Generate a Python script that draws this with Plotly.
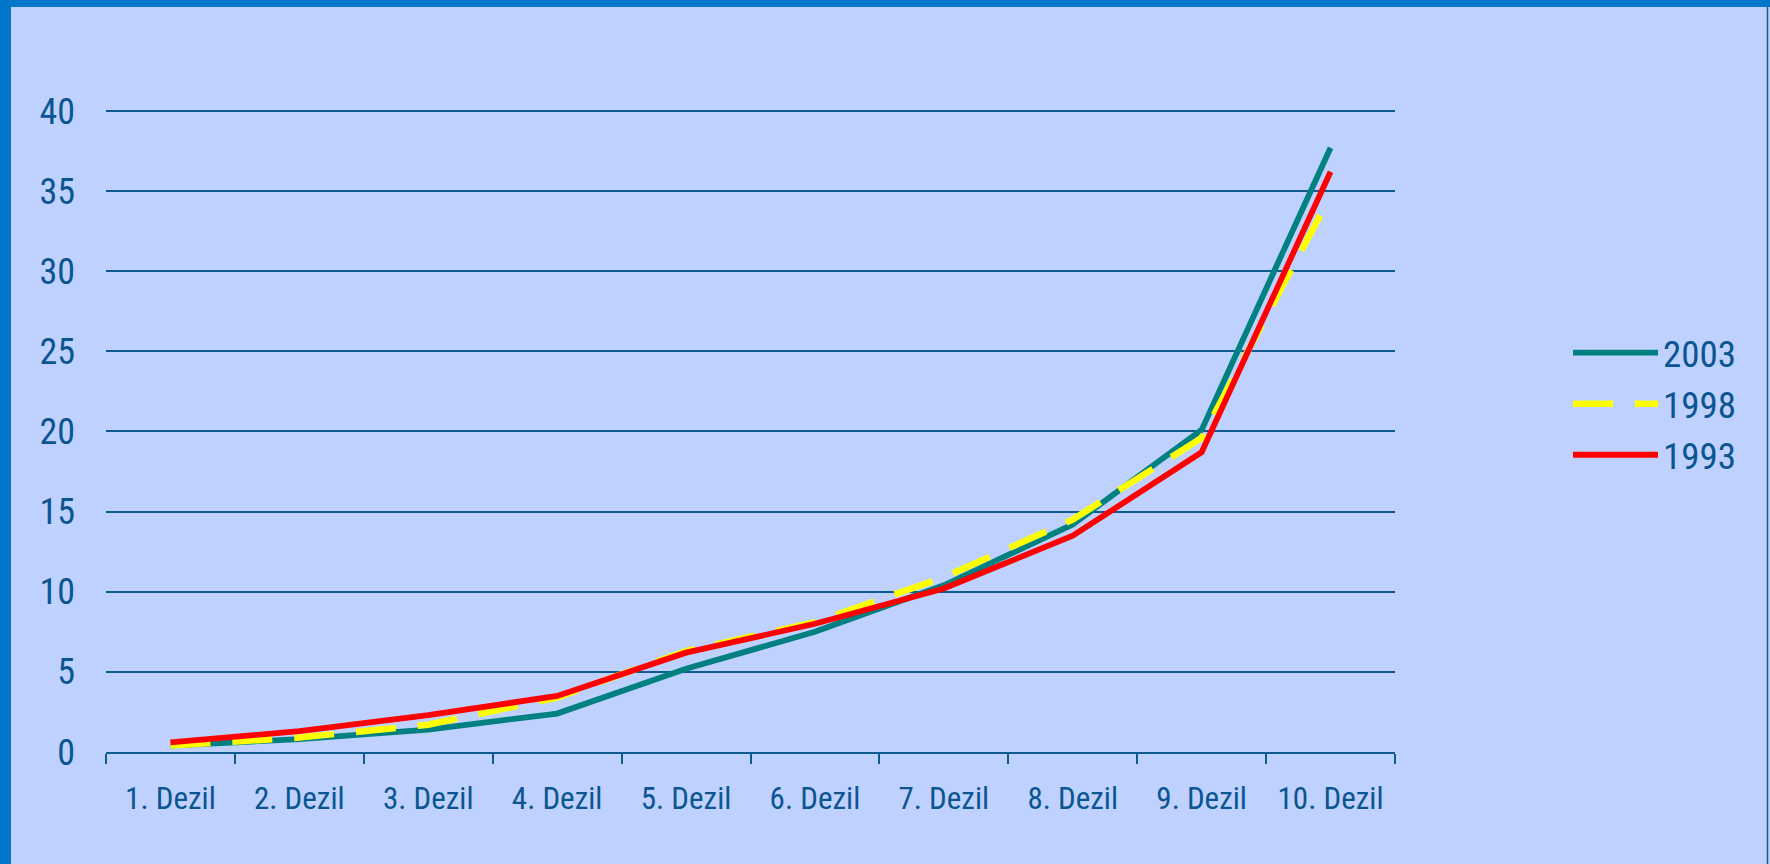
import plotly.graph_objects as go

# data
deciles = ["1. Dezil", "2. Dezil", "3. Dezil", "4. Dezil", "5. Dezil",
           "6. Dezil", "7. Dezil", "8. Dezil", "9. Dezil", "10. Dezil"]
share_2003 = [0.4, 0.8, 1.4, 2.4, 5.2, 7.5, 10.4, 14.2, 20.1, 37.7]
share_1998 = [0.4, 0.9, 1.7, 3.4, 6.3, 8.1, 10.9, 14.5, 19.6, 34.7]
share_1993 = [0.6, 1.3, 2.3, 3.5, 6.2, 8.0, 10.2, 13.5, 18.7, 36.2]

W, H = 1770, 864
L, R, T, B = 106, 375, 109, 112
pw, ph = W - L - R, H - T - B

text_col = "#0B5590"
grid_col = "#0F5A8F"
bg = "#BFD2FF"
frame = "#0077C8"
font_fam = "Liberation Sans Narrow, Arial Narrow, Roboto Condensed, sans-serif"


def px_x(px):
    return (px - L) / pw


def px_y(py):
    return 1 - (py - T) / ph


fig = go.Figure()

fig.add_trace(go.Scatter(
    x=deciles, y=share_2003, name="2003", mode="lines",
    line=dict(color="#008080", width=5.8)
))
fig.add_trace(go.Scatter(
    x=deciles, y=share_1998, name="1998", mode="lines",
    line=dict(color="#FFFF00", width=6.5, dash="40px,22px")
))
fig.add_trace(go.Scatter(
    x=deciles, y=share_1993, name="1993", mode="lines",
    line=dict(color="#FF0000", width=5.8)
))

# blue frame around the slide area
shapes = [
    dict(type="rect", xref="paper", yref="paper",
         x0=px_x(-10), x1=px_x(11), y0=px_y(H + 10), y1=px_y(-10),
         fillcolor=frame, line=dict(width=0), layer="above"),
    dict(type="rect", xref="paper", yref="paper",
         x0=px_x(-10), x1=px_x(W + 10), y0=px_y(7), y1=px_y(-10),
         fillcolor=frame, line=dict(width=0), layer="above"),
    dict(type="line", xref="paper", yref="paper",
         x0=px_x(1767.5), x1=px_x(1767.5), y0=px_y(H), y1=px_y(7),
         line=dict(color=grid_col, width=1.5)),
]

fig.update_layout(
    width=W, height=H,
    margin=dict(l=L, r=R, t=T, b=B),
    paper_bgcolor=bg,
    plot_bgcolor=bg,
    font=dict(family=font_fam, color=text_col),
    shapes=shapes,
    showlegend=True,
    legend=dict(
        x=px_x(1568), xanchor="left",
        y=px_y(322), yanchor="top",
        font=dict(size=37, color=text_col),
        itemwidth=85,
        bgcolor="rgba(0,0,0,0)",
    ),
    xaxis=dict(
        type="category",
        range=[-0.5, 9.5],
        showgrid=False,
        showline=True, linecolor=grid_col, linewidth=2,
        ticks="outside", tickson="boundaries", ticklen=10,
        tickcolor=grid_col, tickwidth=2,
        tickfont=dict(size=31, color=text_col),
        ticklabelstandoff=18,
        zeroline=False,
    ),
    yaxis=dict(
        range=[0, 40.12],
        tickvals=[0, 5, 10, 15, 20, 25, 30, 35, 40],
        showgrid=True, gridcolor=grid_col, gridwidth=2,
        showline=False,
        zeroline=False,
        ticks="",
        tickfont=dict(size=36, color=text_col),
        ticklabelstandoff=30,
    ),
)

# page body has a default margin; remove it so the figure sits at 0,0
fig.write_html("out.html", config={"displayModeBar": False},
               post_script="document.body.style.margin='0';")
